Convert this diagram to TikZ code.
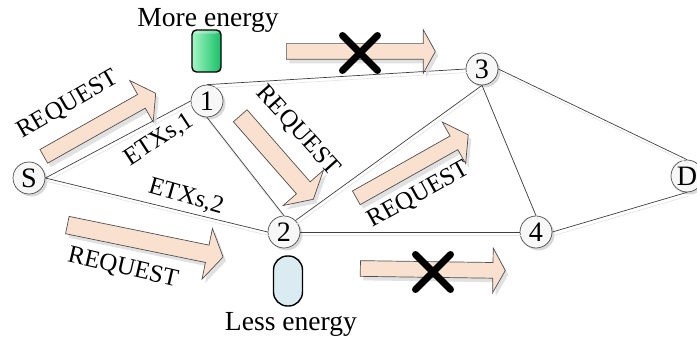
\documentclass[tikz,border=0pt]{standalone}
\usepackage{fontspec}
\setmainfont{Liberation Serif}
\usetikzlibrary{shapes.arrows,shapes.misc,shadows}
\definecolor{arrowfill}{HTML}{F9E0CF}
\definecolor{arrowline}{HTML}{505050}
\definecolor{lowfill}{HTML}{DAEBF2}
\definecolor{highleft}{HTML}{A4F7C4}
\definecolor{highright}{HTML}{16BE68}
\tikzset{
    netnode/.style={circle, draw=black!70, fill=black!3, minimum size=0.64cm, inner sep=0pt, font=\fontsize{16}{18}\selectfont, drop shadow={shadow xshift=0.05cm, shadow yshift=-0.05cm, fill=black!25, opacity=0.6}},
    link/.style={draw=black!75, preaction={draw=black!10, transform canvas={xshift=0.03cm, yshift=-0.07cm}}},
    reqarrow/.style={single arrow, draw=arrowline, fill=arrowfill, inner xsep=0pt, inner ysep=0.15cm, anchor=tail, drop shadow={shadow xshift=0.06cm, shadow yshift=-0.08cm, fill=black!15, opacity=0.8}},
    stopmark/.style={cross out, draw=black, line width=0.14cm, line cap=round, minimum size=0.56cm, inner sep=0pt},
    lbl/.style={font=\fontsize{15.7}{18}\selectfont, inner sep=0pt},
    smalllbl/.style={font=\fontsize{14.2}{16}\selectfont, inner sep=0pt},
}
\begin{document}
\begin{tikzpicture}[x=0.02cm,y=-0.02cm]
    \useasboundingbox (0,0) rectangle (697,344);

    \node[netnode] (S) at (29,178) {S};
    \node[netnode] (n1) at (207,101) {1};
    \node[netnode] (n2) at (284,232) {2};
    \node[netnode] (n3) at (482,69) {3};
    \node[netnode] (n4) at (536,232) {4};
    \node[netnode] (D) at (687,176) {D};

    \draw[link] (S.east) -- (n1.west);
    \draw[link] (S.east) -- (n2.west);
    \draw[link] (n1.south) -- (n2.north);
    \draw[link] (n1.north) -- (n3.west);
    \draw[link] (n2.north east) -- (n3.south);
    \draw[link] (n2.east) -- (n4.west);
    \draw[link] (n3.south) -- (n4.north);
    \draw[link] (n3.east) -- (D.north);
    \draw[link] (n4.east) -- (D.south);

    \node[reqarrow, rotate=29.4, minimum height=2.57cm, single arrow tip angle=111, single arrow head extend=0.32cm] (reqa) at (43.5,156.5) {};
    \node[reqarrow, rotate=-48.8, minimum height=2.22cm, single arrow tip angle=121, inner ysep=0.175cm, single arrow head extend=0.355cm] (reqb) at (240,115.5) {};
    \node[reqarrow, rotate=29.4, minimum height=2.57cm, single arrow tip angle=111, single arrow head extend=0.32cm] (reqc) at (356,198) {};
    \node[reqarrow, rotate=-11.6, minimum height=3.18cm, single arrow tip angle=116, inner ysep=0.17cm, single arrow head extend=0.34cm] (reqd) at (67,225) {};
    \node[reqarrow, minimum height=2.98cm, single arrow tip angle=122, single arrow head extend=0.28cm] (reqe) at (286,51.5) {};
    \node[reqarrow, rotate=-0.8, minimum height=2.9cm, single arrow tip angle=122, single arrow head extend=0.29cm] (reqf) at (360,268.5) {};

    \node[stopmark] (stopa) at (360,53) {};
    \node[stopmark] (stopb) at (433,272) {};

    \node[lbl] (more) at (208,20) {More energy};
    \node[lbl] (less) at (291,324) {Less energy};
    \node[draw=black, thick, left color=highleft, right color=highright, rounded corners=0.09cm, minimum width=0.58cm, minimum height=0.84cm, inner sep=0pt,
        path picture={\fill[white, opacity=0.35] (path picture bounding box.north west) rectangle ([yshift=-0.07cm]path picture bounding box.north east);}] (high) at (206.5,51) {};
    \node[draw=black, thick, fill=lowfill, rounded corners=0.28cm, minimum width=0.58cm, minimum height=1cm, inner sep=0pt] (low) at (288,281) {};

    \node[smalllbl, rotate=30] (ta) at (68,105) {REQUEST};
    \node[smalllbl, rotate=33] (tb) at (159,140) {ETXs,1};
    \node[smalllbl, rotate=-48] (tc) at (298,131) {REQUEST};
    \node[smalllbl, rotate=-16] (td) at (186,197) {ETXs,2};
    \node[smalllbl, rotate=-13] (te) at (123,268) {REQUEST};
    \node[smalllbl, rotate=29] (tf) at (419,195) {REQUEST};
\end{tikzpicture}
\end{document}
